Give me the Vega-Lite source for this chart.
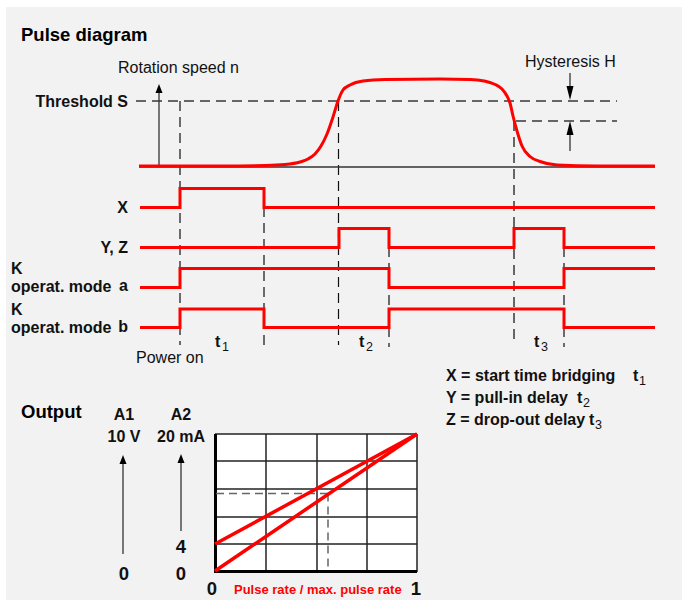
{
  "$schema": "https://vega.github.io/schema/vega-lite/v6.json",
  "width": 682,
  "height": 600,
  "autosize": {"type": "fit", "contains": "padding"},
  "padding": 0,
  "background": "white",
  "config": {"view": {"stroke": null}, "text": {"font": "Liberation Sans", "baseline": "alphabetic"}},
  "datasets": {
    "bg": [{"x": 6, "x2": 682, "y": 7, "y2": 600}],
    "box": [{"x": 215, "x2": 417, "y": 434, "y2": 572}],
    "grid": [
      {"x": 266, "x2": 266, "y": 434, "y2": 572},
      {"x": 317, "x2": 317, "y": 434, "y2": 572},
      {"x": 367, "x2": 367, "y": 434, "y2": 572},
      {"x": 417, "x2": 417, "y": 434, "y2": 572},
      {"x": 215, "x2": 417, "y": 434, "y2": 434},
      {"x": 215, "x2": 417, "y": 461, "y2": 461},
      {"x": 215, "x2": 417, "y": 489, "y2": 489},
      {"x": 215, "x2": 417, "y": 517, "y2": 517},
      {"x": 215, "x2": 417, "y": 544, "y2": 544}
    ],
    "thick": [
      {"x": 215.5, "x2": 215.5, "y": 434, "y2": 573},
      {"x": 214, "x2": 417, "y": 571.5, "y2": 571.5}
    ],
    "grayDash": [
      {"x": 136, "x2": 617, "y": 101, "y2": 101},
      {"x": 516, "x2": 617, "y": 121, "y2": 121},
      {"x": 514, "x2": 514, "y": 121, "y2": 345}
    ],
    "chartDash": [
      {"x": 216, "x2": 328, "y": 493.5, "y2": 493.5},
      {"x": 328, "x2": 328, "y": 493.5, "y2": 570}
    ],
    "blackDash": [
      {"x": 180, "x2": 180, "y": 101, "y2": 345},
      {"x": 264, "x2": 264, "y": 207, "y2": 345},
      {"x": 338.5, "x2": 338.5, "y": 101, "y2": 345},
      {"x": 389, "x2": 389, "y": 247, "y2": 347},
      {"x": 564, "x2": 564, "y": 247, "y2": 347}
    ],
    "axisLines": [
      {"x": 139, "x2": 655, "y": 167, "y2": 167},
      {"x": 159, "x2": 159, "y": 167, "y2": 90},
      {"x": 570, "x2": 570, "y": 73, "y2": 90},
      {"x": 570, "x2": 570, "y": 131, "y2": 151},
      {"x": 123, "x2": 123, "y": 462, "y2": 554},
      {"x": 181, "x2": 181, "y": 462, "y2": 531}
    ],
    "headsUp": [
      {"x": 159, "y": 88.5},
      {"x": 123, "y": 459.5},
      {"x": 181, "y": 458.5}
    ],
    "headsBigDown": [{"x": 570, "y": 93}],
    "headsBigUp": [{"x": 570, "y": 128}],
    "signals": [
      {"s": "X", "i": 0, "x": 140, "y": 207.5},
      {"s": "X", "i": 1, "x": 180, "y": 207.5},
      {"s": "X", "i": 2, "x": 180, "y": 188.5},
      {"s": "X", "i": 3, "x": 264, "y": 188.5},
      {"s": "X", "i": 4, "x": 264, "y": 207.5},
      {"s": "X", "i": 5, "x": 655, "y": 207.5},
      {"s": "YZ", "i": 0, "x": 140, "y": 247.5},
      {"s": "YZ", "i": 1, "x": 339, "y": 247.5},
      {"s": "YZ", "i": 2, "x": 339, "y": 228.5},
      {"s": "YZ", "i": 3, "x": 389, "y": 228.5},
      {"s": "YZ", "i": 4, "x": 389, "y": 247.5},
      {"s": "YZ", "i": 5, "x": 514, "y": 247.5},
      {"s": "YZ", "i": 6, "x": 514, "y": 228.5},
      {"s": "YZ", "i": 7, "x": 564, "y": 228.5},
      {"s": "YZ", "i": 8, "x": 564, "y": 247.5},
      {"s": "YZ", "i": 9, "x": 655, "y": 247.5},
      {"s": "Ka", "i": 0, "x": 140, "y": 287.5},
      {"s": "Ka", "i": 1, "x": 180, "y": 287.5},
      {"s": "Ka", "i": 2, "x": 180, "y": 268.5},
      {"s": "Ka", "i": 3, "x": 389, "y": 268.5},
      {"s": "Ka", "i": 4, "x": 389, "y": 287.5},
      {"s": "Ka", "i": 5, "x": 564, "y": 287.5},
      {"s": "Ka", "i": 6, "x": 564, "y": 268.5},
      {"s": "Ka", "i": 7, "x": 655, "y": 268.5},
      {"s": "Kb", "i": 0, "x": 140, "y": 327.5},
      {"s": "Kb", "i": 1, "x": 180, "y": 327.5},
      {"s": "Kb", "i": 2, "x": 180, "y": 309},
      {"s": "Kb", "i": 3, "x": 264, "y": 309},
      {"s": "Kb", "i": 4, "x": 264, "y": 327.5},
      {"s": "Kb", "i": 5, "x": 389, "y": 327.5},
      {"s": "Kb", "i": 6, "x": 389, "y": 309},
      {"s": "Kb", "i": 7, "x": 564, "y": 309},
      {"s": "Kb", "i": 8, "x": 564, "y": 327.5},
      {"s": "Kb", "i": 9, "x": 655, "y": 327.5}
    ],
    "curve": [
      {"i": 0, "x": 139, "y": 166},
      {"i": 1, "x": 220, "y": 166},
      {"i": 2, "x": 265, "y": 165.5},
      {"i": 3, "x": 285, "y": 164.5},
      {"i": 4, "x": 300, "y": 162},
      {"i": 5, "x": 308, "y": 159},
      {"i": 6, "x": 315, "y": 154},
      {"i": 7, "x": 321, "y": 146},
      {"i": 8, "x": 327, "y": 134},
      {"i": 9, "x": 333, "y": 117},
      {"i": 10, "x": 338, "y": 101},
      {"i": 11, "x": 343, "y": 90},
      {"i": 12, "x": 350, "y": 85},
      {"i": 13, "x": 363, "y": 81},
      {"i": 14, "x": 385, "y": 79.5},
      {"i": 15, "x": 440, "y": 79},
      {"i": 16, "x": 470, "y": 79.5},
      {"i": 17, "x": 484, "y": 81},
      {"i": 18, "x": 494, "y": 84},
      {"i": 19, "x": 502, "y": 89},
      {"i": 20, "x": 507, "y": 96},
      {"i": 21, "x": 510, "y": 103},
      {"i": 22, "x": 513, "y": 116},
      {"i": 23, "x": 517, "y": 131},
      {"i": 24, "x": 522, "y": 146},
      {"i": 25, "x": 530, "y": 156.5},
      {"i": 26, "x": 540, "y": 161.5},
      {"i": 27, "x": 557, "y": 165},
      {"i": 28, "x": 597, "y": 166},
      {"i": 29, "x": 655, "y": 166}
    ],
    "redChart": [
      {"x": 215, "x2": 417, "y": 571, "y2": 434},
      {"x": 215, "x2": 417, "y": 544, "y2": 434}
    ],
    "titles": [
      {"x": 21, "y": 41, "t": "Pulse diagram"},
      {"x": 21, "y": 418, "t": "Output"}
    ],
    "regular": [
      {"x": 118, "y": 73, "t": "Rotation speed n"},
      {"x": 525, "y": 67, "t": "Hysteresis H"},
      {"x": 136, "y": 363, "t": "Power on"}
    ],
    "boldRight": [
      {"x": 128, "y": 107, "t": "Threshold S"},
      {"x": 128, "y": 213, "t": "X"},
      {"x": 128, "y": 253, "t": "Y, Z"},
      {"x": 128, "y": 291, "t": "a"},
      {"x": 128, "y": 332, "t": "b"}
    ],
    "boldLeft": [
      {"x": 11, "y": 274, "t": "K"},
      {"x": 11, "y": 292, "t": "operat. mode"},
      {"x": 11, "y": 315, "t": "K"},
      {"x": 11, "y": 333, "t": "operat. mode"},
      {"x": 446, "y": 381, "t": "X = start time bridging"},
      {"x": 446, "y": 403, "t": "Y = pull-in delay"},
      {"x": 446, "y": 425, "t": "Z = drop-out delay"},
      {"x": 215, "y": 347, "t": "t"},
      {"x": 359, "y": 347, "t": "t"},
      {"x": 534, "y": 347, "t": "t"},
      {"x": 633, "y": 381, "t": "t"},
      {"x": 577, "y": 403, "t": "t"},
      {"x": 589, "y": 425, "t": "t"}
    ],
    "subs": [
      {"x": 222, "y": 351, "t": "1"},
      {"x": 366, "y": 351, "t": "2"},
      {"x": 541, "y": 351, "t": "3"},
      {"x": 639, "y": 385, "t": "1"},
      {"x": 583, "y": 407, "t": "2"},
      {"x": 595, "y": 429, "t": "3"}
    ],
    "boldCenter": [
      {"x": 124, "y": 420, "t": "A1"},
      {"x": 124, "y": 442, "t": "10 V"},
      {"x": 181, "y": 420, "t": "A2"},
      {"x": 181, "y": 442, "t": "20 mA"}
    ],
    "bigCenter": [
      {"x": 181, "y": 553, "t": "4"},
      {"x": 124, "y": 580, "t": "0"},
      {"x": 181, "y": 580, "t": "0"},
      {"x": 212, "y": 595, "t": "0"},
      {"x": 416, "y": 595, "t": "1"}
    ],
    "redText": [
      {"x": 234, "y": 594, "t": "Pulse rate / max. pulse rate"}
    ]
  },
  "encoding": {
    "x": {"field": "x", "type": "quantitative", "scale": {"domain": [0, 682], "nice": false, "zero": false}, "axis": null},
    "y": {"field": "y", "type": "quantitative", "scale": {"domain": [0, 600], "reverse": true, "nice": false, "zero": false}, "axis": null}
  },
  "layer": [
    {"data": {"name": "bg"}, "mark": {"type": "rect", "color": "#f2f2f2"}, "encoding": {"x2": {"field": "x2"}, "y2": {"field": "y2"}}},
    {"data": {"name": "box"}, "mark": {"type": "rect", "color": "#ffffff"}, "encoding": {"x2": {"field": "x2"}, "y2": {"field": "y2"}}},
    {"data": {"name": "grid"}, "mark": {"type": "rule", "color": "#222222", "strokeWidth": 1.5}, "encoding": {"x2": {"field": "x2"}, "y2": {"field": "y2"}}},
    {"data": {"name": "thick"}, "mark": {"type": "rule", "color": "#000000", "strokeWidth": 3}, "encoding": {"x2": {"field": "x2"}, "y2": {"field": "y2"}}},
    {"data": {"name": "grayDash"}, "mark": {"type": "rule", "color": "#666666", "strokeWidth": 2, "strokeDash": [10, 6]}, "encoding": {"x2": {"field": "x2"}, "y2": {"field": "y2"}}},
    {"data": {"name": "chartDash"}, "mark": {"type": "rule", "color": "#666666", "strokeWidth": 1.5, "strokeDash": [8, 5]}, "encoding": {"x2": {"field": "x2"}, "y2": {"field": "y2"}}},
    {"data": {"name": "blackDash"}, "mark": {"type": "rule", "color": "#111111", "strokeWidth": 1.2, "strokeDash": [10, 6]}, "encoding": {"x2": {"field": "x2"}, "y2": {"field": "y2"}}},
    {"data": {"name": "axisLines"}, "mark": {"type": "rule", "color": "#333333", "strokeWidth": 1.3}, "encoding": {"x2": {"field": "x2"}, "y2": {"field": "y2"}}},
    {"data": {"name": "headsUp"}, "mark": {"type": "point", "shape": "M0,-1L-0.78,1L0.78,1Z", "size": 81, "filled": true, "color": "#000000", "opacity": 1, "strokeWidth": 0}},
    {"data": {"name": "headsBigDown"}, "mark": {"type": "point", "shape": "M0,1L-0.5,-1L0.5,-1Z", "size": 196, "filled": true, "color": "#000000", "opacity": 1, "strokeWidth": 0}},
    {"data": {"name": "headsBigUp"}, "mark": {"type": "point", "shape": "M0,-1L-0.5,1L0.5,1Z", "size": 196, "filled": true, "color": "#000000", "opacity": 1, "strokeWidth": 0}},
    {"data": {"name": "signals"}, "mark": {"type": "line", "color": "#ff0000", "strokeWidth": 3, "strokeJoin": "miter", "strokeCap": "butt"}, "encoding": {"detail": {"field": "s"}, "order": {"field": "i", "type": "quantitative"}}},
    {"data": {"name": "curve"}, "mark": {"type": "line", "color": "#ff0000", "strokeWidth": 3, "interpolate": "monotone"}, "encoding": {"order": {"field": "i", "type": "quantitative"}}},
    {"data": {"name": "redChart"}, "mark": {"type": "rule", "color": "#ff0000", "strokeWidth": 3.5}, "encoding": {"x2": {"field": "x2"}, "y2": {"field": "y2"}}},
    {"data": {"name": "titles"}, "mark": {"type": "text", "fontSize": 18.5, "fontWeight": "bold", "align": "left", "color": "#000000"}, "encoding": {"text": {"field": "t"}}},
    {"data": {"name": "regular"}, "mark": {"type": "text", "fontSize": 16, "align": "left", "color": "#111111"}, "encoding": {"text": {"field": "t"}}},
    {"data": {"name": "boldRight"}, "mark": {"type": "text", "fontSize": 16, "fontWeight": "bold", "align": "right", "color": "#111111"}, "encoding": {"text": {"field": "t"}}},
    {"data": {"name": "boldLeft"}, "mark": {"type": "text", "fontSize": 16, "fontWeight": "bold", "align": "left", "color": "#111111"}, "encoding": {"text": {"field": "t"}}},
    {"data": {"name": "subs"}, "mark": {"type": "text", "fontSize": 12.5, "align": "left", "color": "#111111"}, "encoding": {"text": {"field": "t"}}},
    {"data": {"name": "boldCenter"}, "mark": {"type": "text", "fontSize": 16, "fontWeight": "bold", "align": "center", "color": "#111111"}, "encoding": {"text": {"field": "t"}}},
    {"data": {"name": "bigCenter"}, "mark": {"type": "text", "fontSize": 18.5, "fontWeight": "bold", "align": "center", "color": "#111111"}, "encoding": {"text": {"field": "t"}}},
    {"data": {"name": "redText"}, "mark": {"type": "text", "fontSize": 13, "fontWeight": "bold", "align": "left", "color": "#ff0000"}, "encoding": {"text": {"field": "t"}}}
  ]
}
